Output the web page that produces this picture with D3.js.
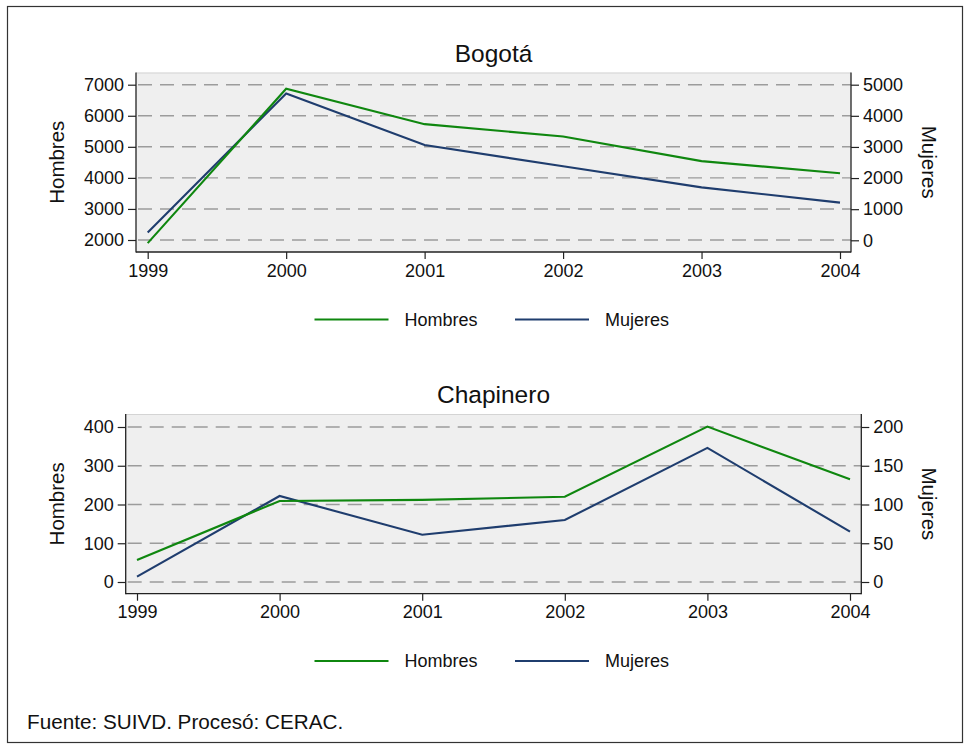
<!DOCTYPE html>
<html>
<head>
<meta charset="utf-8">
<script src="https://cdn.jsdelivr.net/npm/d3@7"></script>
<style>
  html, body { margin: 0; padding: 0; background: #ffffff; }
  svg { display: block; font-family: "Liberation Sans", Arial, Helvetica, sans-serif; }
</style>
</head>
<body>
<svg id="chart" width="969" height="749"></svg>
<script>
// ---- Data ----
const years = [1999, 2000, 2001, 2002, 2003, 2004];
const seriesNames = ["Hombres", "Mujeres"];

const bogotaHombres = [1900, 6870, 5730, 5330, 4540, 4150];
const bogotaMujeres = [250, 4720, 3060, 2380, 1700, 1210];

const chapineroHombres = [57, 209, 212, 220, 401, 265];
const chapineroMujeres = [7, 111, 61, 80, 173, 65];

const bogotaLeftTicks = [2000, 3000, 4000, 5000, 6000, 7000];
const bogotaRightTicks = [0, 1000, 2000, 3000, 4000, 5000];
const chapineroLeftTicks = [0, 100, 200, 300, 400];
const chapineroRightTicks = [0, 50, 100, 150, 200];

const panelTitles = ["Bogotá", "Chapinero"];
const footerText = "Fuente: SUIVD. Procesó: CERAC.";

// ---- Style ----
const colorH = "#0f870f";
const colorM = "#1f3d6e";
const FONT_TICK = 18;

const svg = d3.select("#chart");

// outer frame
svg.append("rect")
  .attr("x", 7.5).attr("y", 6.5)
  .attr("width", 955).attr("height", 736)
  .attr("fill", "#ffffff").attr("stroke", "#333333").attr("stroke-width", 1.2);

function drawPanel(cfg) {
  const g = svg.append("g");
  const { box } = cfg;

  const x = d3.scaleLinear().domain([1999, 2004]).range(cfg.xRange);
  const yL = d3.scaleLinear().domain(cfg.leftDomain).range(cfg.leftRange);
  const yR = d3.scaleLinear().domain(cfg.rightDomain).range(cfg.rightRange);

  // plot region
  g.append("rect")
    .attr("x", box.left).attr("y", box.top)
    .attr("width", box.right - box.left).attr("height", box.bottom - box.top)
    .attr("fill", "#efefef").attr("stroke", "none");
  g.append("line")
    .attr("x1", box.left).attr("x2", box.right)
    .attr("y1", box.top + 0.5).attr("y2", box.top + 0.5)
    .attr("stroke", "#d4d4d4").attr("stroke-width", 1);

  // gridlines
  g.selectAll(".grid").data(cfg.leftTicks).enter().append("line")
    .attr("x1", box.left + 2).attr("x2", box.right)
    .attr("y1", d => yL(d)).attr("y2", d => yL(d))
    .attr("stroke", "#9c9c9c").attr("stroke-width", 1.4)
    .attr("stroke-dasharray", "14 8");

  // series lines
  const lineL = d3.line().x((d, i) => x(years[i])).y(d => yL(d));
  const lineR = d3.line().x((d, i) => x(years[i])).y(d => yR(d));
  g.append("path").attr("d", lineR(cfg.mujeres))
    .attr("fill", "none").attr("stroke", colorM).attr("stroke-width", 2.1)
    .attr("stroke-linejoin", "miter");
  g.append("path").attr("d", lineL(cfg.hombres))
    .attr("fill", "none").attr("stroke", colorH).attr("stroke-width", 2.1)
    .attr("stroke-linejoin", "miter");

  // axes
  const axL = d3.axisLeft(yL).tickValues(cfg.leftTicks).tickSize(8).tickPadding(4).tickFormat(d3.format("d"));
  const axR = d3.axisRight(yR).tickValues(cfg.rightTicks).tickSize(8).tickPadding(4).tickFormat(d3.format("d"));
  const axB = d3.axisBottom(x).tickValues(years).tickSize(7).tickPadding(5).tickFormat(d3.format("d"));

  const gl = g.append("g").attr("transform", `translate(${box.left},0)`).call(axL);
  const gr = g.append("g").attr("transform", `translate(${box.right},0)`).call(axR);
  const gb = g.append("g").attr("transform", `translate(0,${box.bottom})`).call(axB);
  [gl, gr, gb].forEach(a => {
    a.select(".domain").remove();
    a.selectAll(".tick line").attr("stroke", "#222").attr("stroke-width", 1.2);
    a.selectAll(".tick text").attr("fill", "#111").style("font-size", FONT_TICK + "px")
      .style("font-family", '"Liberation Sans", Arial, sans-serif');
  });

  // axis frame lines
  g.append("line").attr("x1", box.left).attr("x2", box.left)
    .attr("y1", box.top).attr("y2", box.bottom + 0.6)
    .attr("stroke", "#222").attr("stroke-width", 1.3);
  g.append("line").attr("x1", box.right).attr("x2", box.right)
    .attr("y1", box.top).attr("y2", box.bottom + 0.6)
    .attr("stroke", "#222").attr("stroke-width", 1.3);
  g.append("line").attr("x1", box.left).attr("x2", box.right)
    .attr("y1", box.bottom).attr("y2", box.bottom)
    .attr("stroke", "#222").attr("stroke-width", 1.3);

  // title
  g.append("text")
    .attr("x", (box.left + box.right) / 2).attr("y", cfg.titleBaseline)
    .attr("text-anchor", "middle").attr("fill", "#111")
    .style("font-size", "24.5px").text(cfg.title);

  // axis titles
  const cy = (box.top + box.bottom) / 2;
  g.append("text")
    .attr("transform", `translate(64,${cy}) rotate(-90)`)
    .attr("text-anchor", "middle").attr("fill", "#111")
    .style("font-size", "20.5px").text(seriesNames[0]);
  g.append("text")
    .attr("transform", `translate(922,${cy}) rotate(90)`)
    .attr("text-anchor", "middle").attr("fill", "#111")
    .style("font-size", "20.5px").text(seriesNames[1]);

  // legend
  const ly = cfg.legendY;
  const legendItems = [
    { name: seriesNames[0], color: colorH, x0: 314.5 },
    { name: seriesNames[1], color: colorM, x0: 515 }
  ];
  legendItems.forEach(it => {
    g.append("line").attr("x1", it.x0).attr("x2", it.x0 + 74)
      .attr("y1", ly).attr("y2", ly)
      .attr("stroke", it.color).attr("stroke-width", 2.1);
    g.append("text").attr("x", it.x0 + 90).attr("y", ly).attr("dy", "0.36em")
      .attr("fill", "#111").style("font-size", "18px").text(it.name);
  });
}

drawPanel({
  title: panelTitles[0],
  box: { left: 136, right: 851, top: 72.5, bottom: 252 },
  xRange: [147.7, 840],
  leftDomain: [2000, 7000], leftRange: [240, 84.7],
  rightDomain: [0, 5000], rightRange: [240.3, 84.7],
  leftTicks: bogotaLeftTicks, rightTicks: bogotaRightTicks,
  hombres: bogotaHombres, mujeres: bogotaMujeres,
  titleBaseline: 61.5, legendY: 319.5
});

drawPanel({
  title: panelTitles[1],
  box: { left: 125.7, right: 861.3, top: 414, bottom: 593.7 },
  xRange: [137, 850],
  leftDomain: [0, 400], leftRange: [582, 427],
  rightDomain: [0, 200], rightRange: [582, 427],
  leftTicks: chapineroLeftTicks, rightTicks: chapineroRightTicks,
  hombres: chapineroHombres, mujeres: chapineroMujeres,
  titleBaseline: 403, legendY: 661
});

// footer
svg.append("text")
  .attr("x", 27).attr("y", 729)
  .attr("fill", "#111").style("font-size", "20.7px")
  .text(footerText);
</script>
</body>
</html>
